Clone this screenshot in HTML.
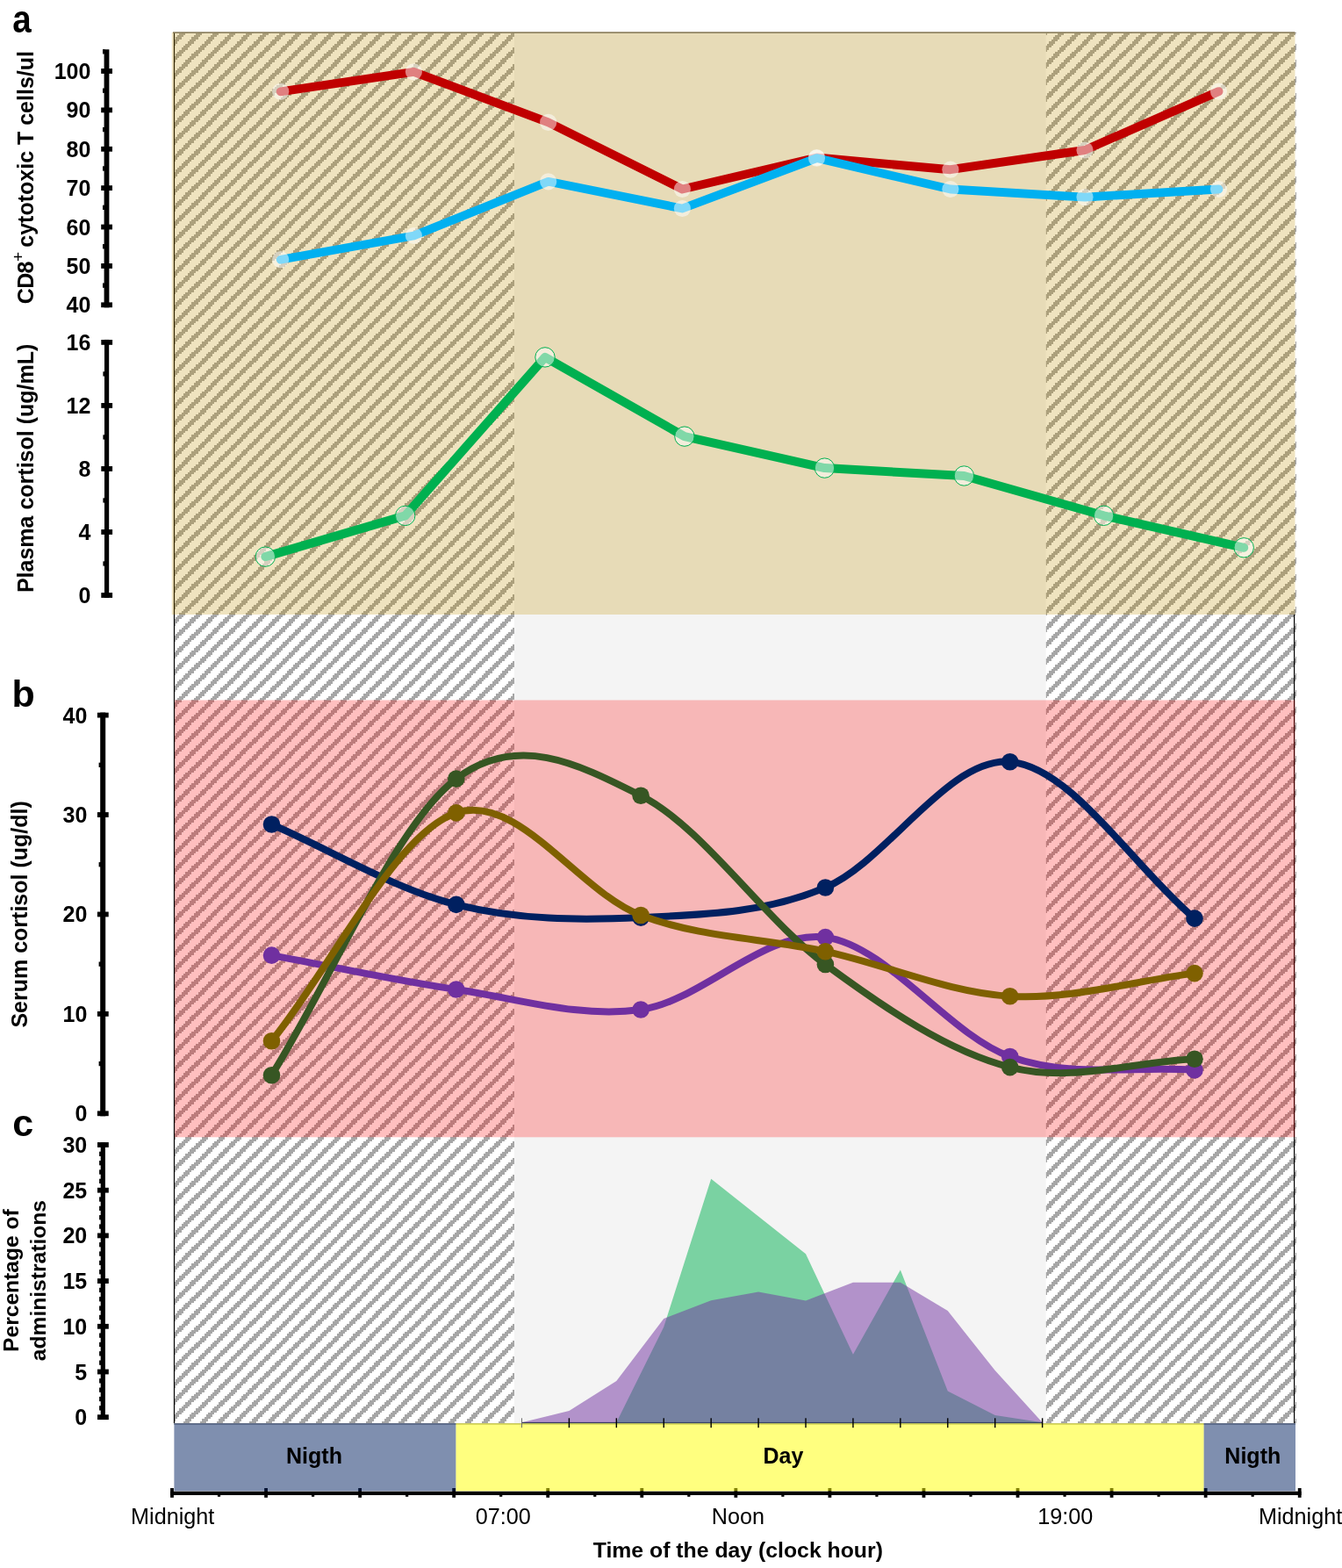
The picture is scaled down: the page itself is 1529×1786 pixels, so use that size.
<!DOCTYPE html>
<html><head><meta charset="utf-8"><title>Circadian cortisol figure</title>
<style>html,body{margin:0;padding:0;background:#fff;}svg{display:block;}text{font-family:"Liberation Sans",Arial,Helvetica,sans-serif;fill:#000;}.b{font-weight:bold;}</style></head><body>
<svg width="1529" height="1786" viewBox="0 0 1529 1786">
<defs>
<pattern id="hw" patternUnits="userSpaceOnUse" x="-1" y="0" width="151" height="151"><rect width="151" height="151" fill="#ffffff"/><path shape-rendering="crispEdges" fill="#a6a6a6" d="M5,0L5,2L2,2L2,5L-5,5L-5,2L-2,2L-2,0ZM24,0L24,2L21,2L21,5L19,5L19,7L17,7L17,9L14,9L14,12L12,12L12,14L9,14L9,17L7,17L7,19L5,19L5,21L2,21L2,24L-5,24L-5,21L-2,21L-2,19L0,19L0,17L2,17L2,14L5,14L5,12L7,12L7,9L9,9L9,7L12,7L12,5L14,5L14,2L17,2L17,0ZM42,0L42,2L40,2L40,5L38,5L38,7L35,7L35,9L33,9L33,12L31,12L31,14L28,14L28,17L26,17L26,19L24,19L24,21L21,21L21,24L19,24L19,26L17,26L17,28L14,28L14,31L12,31L12,33L9,33L9,35L7,35L7,38L5,38L5,40L2,40L2,42L-5,42L-5,40L-2,40L-2,38L0,38L0,35L2,35L2,33L5,33L5,31L7,31L7,28L9,28L9,26L12,26L12,24L14,24L14,21L17,21L17,19L19,19L19,17L21,17L21,14L24,14L24,12L26,12L26,9L28,9L28,7L31,7L31,5L33,5L33,2L35,2L35,0ZM61,0L61,2L59,2L59,5L57,5L57,7L54,7L54,9L52,9L52,12L50,12L50,14L47,14L47,17L45,17L45,19L42,19L42,21L40,21L40,24L38,24L38,26L35,26L35,28L33,28L33,31L31,31L31,33L28,33L28,35L26,35L26,38L24,38L24,40L21,40L21,42L19,42L19,45L17,45L17,47L14,47L14,50L12,50L12,52L9,52L9,54L7,54L7,57L5,57L5,59L2,59L2,61L-5,61L-5,59L-2,59L-2,57L0,57L0,54L2,54L2,52L5,52L5,50L7,50L7,47L9,47L9,45L12,45L12,42L14,42L14,40L17,40L17,38L19,38L19,35L21,35L21,33L24,33L24,31L26,31L26,28L28,28L28,26L31,26L31,24L33,24L33,21L35,21L35,19L38,19L38,17L40,17L40,14L42,14L42,12L45,12L45,9L47,9L47,7L50,7L50,5L52,5L52,2L54,2L54,0ZM80,0L80,2L78,2L78,5L76,5L76,7L73,7L73,9L71,9L71,12L68,12L68,14L66,14L66,17L64,17L64,19L61,19L61,21L59,21L59,24L57,24L57,26L54,26L54,28L52,28L52,31L50,31L50,33L47,33L47,35L45,35L45,38L42,38L42,40L40,40L40,42L38,42L38,45L35,45L35,47L33,47L33,50L31,50L31,52L28,52L28,54L26,54L26,57L24,57L24,59L21,59L21,61L19,61L19,64L17,64L17,66L14,66L14,68L12,68L12,71L9,71L9,73L7,73L7,76L5,76L5,78L2,78L2,80L-5,80L-5,78L-2,78L-2,76L0,76L0,73L2,73L2,71L5,71L5,68L7,68L7,66L9,66L9,64L12,64L12,61L14,61L14,59L17,59L17,57L19,57L19,54L21,54L21,52L24,52L24,50L26,50L26,47L28,47L28,45L31,45L31,42L33,42L33,40L35,40L35,38L38,38L38,35L40,35L40,33L42,33L42,31L45,31L45,28L47,28L47,26L50,26L50,24L52,24L52,21L54,21L54,19L57,19L57,17L59,17L59,14L61,14L61,12L64,12L64,9L66,9L66,7L68,7L68,5L71,5L71,2L73,2L73,0ZM99,0L99,2L97,2L97,5L94,5L94,7L92,7L92,9L90,9L90,12L87,12L87,14L85,14L85,17L83,17L83,19L80,19L80,21L78,21L78,24L76,24L76,26L73,26L73,28L71,28L71,31L68,31L68,33L66,33L66,35L64,35L64,38L61,38L61,40L59,40L59,42L57,42L57,45L54,45L54,47L52,47L52,50L50,50L50,52L47,52L47,54L45,54L45,57L42,57L42,59L40,59L40,61L38,61L38,64L35,64L35,66L33,66L33,68L31,68L31,71L28,71L28,73L26,73L26,76L24,76L24,78L21,78L21,80L19,80L19,83L17,83L17,85L14,85L14,87L12,87L12,90L9,90L9,92L7,92L7,94L5,94L5,97L2,97L2,99L-5,99L-5,97L-2,97L-2,94L0,94L0,92L2,92L2,90L5,90L5,87L7,87L7,85L9,85L9,83L12,83L12,80L14,80L14,78L17,78L17,76L19,76L19,73L21,73L21,71L24,71L24,68L26,68L26,66L28,66L28,64L31,64L31,61L33,61L33,59L35,59L35,57L38,57L38,54L40,54L40,52L42,52L42,50L45,50L45,47L47,47L47,45L50,45L50,42L52,42L52,40L54,40L54,38L57,38L57,35L59,35L59,33L61,33L61,31L64,31L64,28L66,28L66,26L68,26L68,24L71,24L71,21L73,21L73,19L76,19L76,17L78,17L78,14L80,14L80,12L83,12L83,9L85,9L85,7L87,7L87,5L90,5L90,2L92,2L92,0ZM118,0L118,2L116,2L116,5L113,5L113,7L111,7L111,9L109,9L109,12L106,12L106,14L104,14L104,17L101,17L101,19L99,19L99,21L97,21L97,24L94,24L94,26L92,26L92,28L90,28L90,31L87,31L87,33L85,33L85,35L83,35L83,38L80,38L80,40L78,40L78,42L76,42L76,45L73,45L73,47L71,47L71,50L68,50L68,52L66,52L66,54L64,54L64,57L61,57L61,59L59,59L59,61L57,61L57,64L54,64L54,66L52,66L52,68L50,68L50,71L47,71L47,73L45,73L45,76L42,76L42,78L40,78L40,80L38,80L38,83L35,83L35,85L33,85L33,87L31,87L31,90L28,90L28,92L26,92L26,94L24,94L24,97L21,97L21,99L19,99L19,101L17,101L17,104L14,104L14,106L12,106L12,109L9,109L9,111L7,111L7,113L5,113L5,116L2,116L2,118L-5,118L-5,116L-2,116L-2,113L0,113L0,111L2,111L2,109L5,109L5,106L7,106L7,104L9,104L9,101L12,101L12,99L14,99L14,97L17,97L17,94L19,94L19,92L21,92L21,90L24,90L24,87L26,87L26,85L28,85L28,83L31,83L31,80L33,80L33,78L35,78L35,76L38,76L38,73L40,73L40,71L42,71L42,68L45,68L45,66L47,66L47,64L50,64L50,61L52,61L52,59L54,59L54,57L57,57L57,54L59,54L59,52L61,52L61,50L64,50L64,47L66,47L66,45L68,45L68,42L71,42L71,40L73,40L73,38L76,38L76,35L78,35L78,33L80,33L80,31L83,31L83,28L85,28L85,26L87,26L87,24L90,24L90,21L92,21L92,19L94,19L94,17L97,17L97,14L99,14L99,12L101,12L101,9L104,9L104,7L106,7L106,5L109,5L109,2L111,2L111,0ZM137,0L137,2L134,2L134,5L132,5L132,7L130,7L130,9L127,9L127,12L125,12L125,14L123,14L123,17L120,17L120,19L118,19L118,21L116,21L116,24L113,24L113,26L111,26L111,28L109,28L109,31L106,31L106,33L104,33L104,35L101,35L101,38L99,38L99,40L97,40L97,42L94,42L94,45L92,45L92,47L90,47L90,50L87,50L87,52L85,52L85,54L83,54L83,57L80,57L80,59L78,59L78,61L76,61L76,64L73,64L73,66L71,66L71,68L68,68L68,71L66,71L66,73L64,73L64,76L61,76L61,78L59,78L59,80L57,80L57,83L54,83L54,85L52,85L52,87L50,87L50,90L47,90L47,92L45,92L45,94L42,94L42,97L40,97L40,99L38,99L38,101L35,101L35,104L33,104L33,106L31,106L31,109L28,109L28,111L26,111L26,113L24,113L24,116L21,116L21,118L19,118L19,120L17,120L17,123L14,123L14,125L12,125L12,127L9,127L9,130L7,130L7,132L5,132L5,134L2,134L2,137L-5,137L-5,134L-2,134L-2,132L0,132L0,130L2,130L2,127L5,127L5,125L7,125L7,123L9,123L9,120L12,120L12,118L14,118L14,116L17,116L17,113L19,113L19,111L21,111L21,109L24,109L24,106L26,106L26,104L28,104L28,101L31,101L31,99L33,99L33,97L35,97L35,94L38,94L38,92L40,92L40,90L42,90L42,87L45,87L45,85L47,85L47,83L50,83L50,80L52,80L52,78L54,78L54,76L57,76L57,73L59,73L59,71L61,71L61,68L64,68L64,66L66,66L66,64L68,64L68,61L71,61L71,59L73,59L73,57L76,57L76,54L78,54L78,52L80,52L80,50L83,50L83,47L85,47L85,45L87,45L87,42L90,42L90,40L92,40L92,38L94,38L94,35L97,35L97,33L99,33L99,31L101,31L101,28L104,28L104,26L106,26L106,24L109,24L109,21L111,21L111,19L113,19L113,17L116,17L116,14L118,14L118,12L120,12L120,9L123,9L123,7L125,7L125,5L127,5L127,2L130,2L130,0ZM156,0L156,2L153,2L153,5L151,5L151,7L149,7L149,9L146,9L146,12L144,12L144,14L142,14L142,17L139,17L139,19L137,19L137,21L134,21L134,24L132,24L132,26L130,26L130,28L127,28L127,31L125,31L125,33L123,33L123,35L120,35L120,38L118,38L118,40L116,40L116,42L113,42L113,45L111,45L111,47L109,47L109,50L106,50L106,52L104,52L104,54L101,54L101,57L99,57L99,59L97,59L97,61L94,61L94,64L92,64L92,66L90,66L90,68L87,68L87,71L85,71L85,73L83,73L83,76L80,76L80,78L78,78L78,80L76,80L76,83L73,83L73,85L71,85L71,87L68,87L68,90L66,90L66,92L64,92L64,94L61,94L61,97L59,97L59,99L57,99L57,101L54,101L54,104L52,104L52,106L50,106L50,109L47,109L47,111L45,111L45,113L42,113L42,116L40,116L40,118L38,118L38,120L35,120L35,123L33,123L33,125L31,125L31,127L28,127L28,130L26,130L26,132L24,132L24,134L21,134L21,137L19,137L19,139L17,139L17,142L14,142L14,144L12,144L12,146L9,146L9,149L7,149L7,151L0,151L0,149L2,149L2,146L5,146L5,144L7,144L7,142L9,142L9,139L12,139L12,137L14,137L14,134L17,134L17,132L19,132L19,130L21,130L21,127L24,127L24,125L26,125L26,123L28,123L28,120L31,120L31,118L33,118L33,116L35,116L35,113L38,113L38,111L40,111L40,109L42,109L42,106L45,106L45,104L47,104L47,101L50,101L50,99L52,99L52,97L54,97L54,94L57,94L57,92L59,92L59,90L61,90L61,87L64,87L64,85L66,85L66,83L68,83L68,80L71,80L71,78L73,78L73,76L76,76L76,73L78,73L78,71L80,71L80,68L83,68L83,66L85,66L85,64L87,64L87,61L90,61L90,59L92,59L92,57L94,57L94,54L97,54L97,52L99,52L99,50L101,50L101,47L104,47L104,45L106,45L106,42L109,42L109,40L111,40L111,38L113,38L113,35L116,35L116,33L118,33L118,31L120,31L120,28L123,28L123,26L125,26L125,24L127,24L127,21L130,21L130,19L132,19L132,17L134,17L134,14L137,14L137,12L139,12L139,9L142,9L142,7L144,7L144,5L146,5L146,2L149,2L149,0ZM156,19L156,21L153,21L153,24L151,24L151,26L149,26L149,28L146,28L146,31L144,31L144,33L142,33L142,35L139,35L139,38L137,38L137,40L134,40L134,42L132,42L132,45L130,45L130,47L127,47L127,50L125,50L125,52L123,52L123,54L120,54L120,57L118,57L118,59L116,59L116,61L113,61L113,64L111,64L111,66L109,66L109,68L106,68L106,71L104,71L104,73L101,73L101,76L99,76L99,78L97,78L97,80L94,80L94,83L92,83L92,85L90,85L90,87L87,87L87,90L85,90L85,92L83,92L83,94L80,94L80,97L78,97L78,99L76,99L76,101L73,101L73,104L71,104L71,106L68,106L68,109L66,109L66,111L64,111L64,113L61,113L61,116L59,116L59,118L57,118L57,120L54,120L54,123L52,123L52,125L50,125L50,127L47,127L47,130L45,130L45,132L42,132L42,134L40,134L40,137L38,137L38,139L35,139L35,142L33,142L33,144L31,144L31,146L28,146L28,149L26,149L26,151L19,151L19,149L21,149L21,146L24,146L24,144L26,144L26,142L28,142L28,139L31,139L31,137L33,137L33,134L35,134L35,132L38,132L38,130L40,130L40,127L42,127L42,125L45,125L45,123L47,123L47,120L50,120L50,118L52,118L52,116L54,116L54,113L57,113L57,111L59,111L59,109L61,109L61,106L64,106L64,104L66,104L66,101L68,101L68,99L71,99L71,97L73,97L73,94L76,94L76,92L78,92L78,90L80,90L80,87L83,87L83,85L85,85L85,83L87,83L87,80L90,80L90,78L92,78L92,76L94,76L94,73L97,73L97,71L99,71L99,68L101,68L101,66L104,66L104,64L106,64L106,61L109,61L109,59L111,59L111,57L113,57L113,54L116,54L116,52L118,52L118,50L120,50L120,47L123,47L123,45L125,45L125,42L127,42L127,40L130,40L130,38L132,38L132,35L134,35L134,33L137,33L137,31L139,31L139,28L142,28L142,26L144,26L144,24L146,24L146,21L149,21L149,19ZM156,38L156,40L153,40L153,42L151,42L151,45L149,45L149,47L146,47L146,50L144,50L144,52L142,52L142,54L139,54L139,57L137,57L137,59L134,59L134,61L132,61L132,64L130,64L130,66L127,66L127,68L125,68L125,71L123,71L123,73L120,73L120,76L118,76L118,78L116,78L116,80L113,80L113,83L111,83L111,85L109,85L109,87L106,87L106,90L104,90L104,92L101,92L101,94L99,94L99,97L97,97L97,99L94,99L94,101L92,101L92,104L90,104L90,106L87,106L87,109L85,109L85,111L83,111L83,113L80,113L80,116L78,116L78,118L76,118L76,120L73,120L73,123L71,123L71,125L68,125L68,127L66,127L66,130L64,130L64,132L61,132L61,134L59,134L59,137L57,137L57,139L54,139L54,142L52,142L52,144L50,144L50,146L47,146L47,149L45,149L45,151L38,151L38,149L40,149L40,146L42,146L42,144L45,144L45,142L47,142L47,139L50,139L50,137L52,137L52,134L54,134L54,132L57,132L57,130L59,130L59,127L61,127L61,125L64,125L64,123L66,123L66,120L68,120L68,118L71,118L71,116L73,116L73,113L76,113L76,111L78,111L78,109L80,109L80,106L83,106L83,104L85,104L85,101L87,101L87,99L90,99L90,97L92,97L92,94L94,94L94,92L97,92L97,90L99,90L99,87L101,87L101,85L104,85L104,83L106,83L106,80L109,80L109,78L111,78L111,76L113,76L113,73L116,73L116,71L118,71L118,68L120,68L120,66L123,66L123,64L125,64L125,61L127,61L127,59L130,59L130,57L132,57L132,54L134,54L134,52L137,52L137,50L139,50L139,47L142,47L142,45L144,45L144,42L146,42L146,40L149,40L149,38ZM156,57L156,59L153,59L153,61L151,61L151,64L149,64L149,66L146,66L146,68L144,68L144,71L142,71L142,73L139,73L139,76L137,76L137,78L134,78L134,80L132,80L132,83L130,83L130,85L127,85L127,87L125,87L125,90L123,90L123,92L120,92L120,94L118,94L118,97L116,97L116,99L113,99L113,101L111,101L111,104L109,104L109,106L106,106L106,109L104,109L104,111L101,111L101,113L99,113L99,116L97,116L97,118L94,118L94,120L92,120L92,123L90,123L90,125L87,125L87,127L85,127L85,130L83,130L83,132L80,132L80,134L78,134L78,137L76,137L76,139L73,139L73,142L71,142L71,144L68,144L68,146L66,146L66,149L64,149L64,151L57,151L57,149L59,149L59,146L61,146L61,144L64,144L64,142L66,142L66,139L68,139L68,137L71,137L71,134L73,134L73,132L76,132L76,130L78,130L78,127L80,127L80,125L83,125L83,123L85,123L85,120L87,120L87,118L90,118L90,116L92,116L92,113L94,113L94,111L97,111L97,109L99,109L99,106L101,106L101,104L104,104L104,101L106,101L106,99L109,99L109,97L111,97L111,94L113,94L113,92L116,92L116,90L118,90L118,87L120,87L120,85L123,85L123,83L125,83L125,80L127,80L127,78L130,78L130,76L132,76L132,73L134,73L134,71L137,71L137,68L139,68L139,66L142,66L142,64L144,64L144,61L146,61L146,59L149,59L149,57ZM156,76L156,78L153,78L153,80L151,80L151,83L149,83L149,85L146,85L146,87L144,87L144,90L142,90L142,92L139,92L139,94L137,94L137,97L134,97L134,99L132,99L132,101L130,101L130,104L127,104L127,106L125,106L125,109L123,109L123,111L120,111L120,113L118,113L118,116L116,116L116,118L113,118L113,120L111,120L111,123L109,123L109,125L106,125L106,127L104,127L104,130L101,130L101,132L99,132L99,134L97,134L97,137L94,137L94,139L92,139L92,142L90,142L90,144L87,144L87,146L85,146L85,149L83,149L83,151L76,151L76,149L78,149L78,146L80,146L80,144L83,144L83,142L85,142L85,139L87,139L87,137L90,137L90,134L92,134L92,132L94,132L94,130L97,130L97,127L99,127L99,125L101,125L101,123L104,123L104,120L106,120L106,118L109,118L109,116L111,116L111,113L113,113L113,111L116,111L116,109L118,109L118,106L120,106L120,104L123,104L123,101L125,101L125,99L127,99L127,97L130,97L130,94L132,94L132,92L134,92L134,90L137,90L137,87L139,87L139,85L142,85L142,83L144,83L144,80L146,80L146,78L149,78L149,76ZM156,94L156,97L153,97L153,99L151,99L151,101L149,101L149,104L146,104L146,106L144,106L144,109L142,109L142,111L139,111L139,113L137,113L137,116L134,116L134,118L132,118L132,120L130,120L130,123L127,123L127,125L125,125L125,127L123,127L123,130L120,130L120,132L118,132L118,134L116,134L116,137L113,137L113,139L111,139L111,142L109,142L109,144L106,144L106,146L104,146L104,149L101,149L101,151L94,151L94,149L97,149L97,146L99,146L99,144L101,144L101,142L104,142L104,139L106,139L106,137L109,137L109,134L111,134L111,132L113,132L113,130L116,130L116,127L118,127L118,125L120,125L120,123L123,123L123,120L125,120L125,118L127,118L127,116L130,116L130,113L132,113L132,111L134,111L134,109L137,109L137,106L139,106L139,104L142,104L142,101L144,101L144,99L146,99L146,97L149,97L149,94ZM156,113L156,116L153,116L153,118L151,118L151,120L149,120L149,123L146,123L146,125L144,125L144,127L142,127L142,130L139,130L139,132L137,132L137,134L134,134L134,137L132,137L132,139L130,139L130,142L127,142L127,144L125,144L125,146L123,146L123,149L120,149L120,151L113,151L113,149L116,149L116,146L118,146L118,144L120,144L120,142L123,142L123,139L125,139L125,137L127,137L127,134L130,134L130,132L132,132L132,130L134,130L134,127L137,127L137,125L139,125L139,123L142,123L142,120L144,120L144,118L146,118L146,116L149,116L149,113ZM156,132L156,134L153,134L153,137L151,137L151,139L149,139L149,142L146,142L146,144L144,144L144,146L142,146L142,149L139,149L139,151L132,151L132,149L134,149L134,146L137,146L137,144L139,144L139,142L142,142L142,139L144,139L144,137L146,137L146,134L149,134L149,132Z"/></pattern>
</defs>
<rect width="1529" height="1786" fill="#fff"/>
<rect x="198" y="37" width="388" height="1584" fill="url(#hw)"/>
<rect x="586" y="37" width="605.8" height="1584" fill="#f4f4f4"/>
<rect x="1191.8" y="37" width="285.2" height="1584" fill="url(#hw)"/>
<rect x="197.9" y="37" width="1.2" height="1584" fill="#000"/>
<rect x="1474" y="700" width="1.2" height="921" fill="#000"/>
<rect x="195.8" y="37" width="1279.7" height="663" fill="#bf9000" fill-opacity="0.25"/>
<rect x="197" y="36.3" width="1278.5" height="1.6" fill="#877a58"/>
<rect x="199" y="797.5" width="1276.5" height="497.8" fill="#ff0000" fill-opacity="0.25"/>
<rect x="594.5" y="1619.9" width="593.12" height="1.7" fill="#000"/>
<rect x="198" y="1621" width="1278" height="1.8" fill="#a8a8a8"/>
<path d="M594.5,1621.3 L594.5,1620.3 L648.42,1620.3 L702.34,1620.3 L756.26,1511.5 L810.18,1342.7 L864.1,1385.5 L918.02,1428.3 L971.94,1542.8 L1025.86,1446.4 L1079.78,1584.6 L1133.7,1612.1 L1187.62,1620.3 L1187.62,1621.3 Z" fill="#00b050" fill-opacity="0.5"/>
<path d="M594.5,1621.3 L594.5,1620.3 L648.42,1607 L702.34,1573 L756.26,1502 L810.18,1481.2 L864.1,1471.4 L918.02,1481.4 L971.94,1460.8 L1025.86,1460.8 L1079.78,1493.1 L1133.7,1561.1 L1187.62,1620.3 L1187.62,1621.3 Z" fill="#7030a0" fill-opacity="0.5"/>
<path d="M319.7,104.3 L471.4,81.8 L624.7,139.4 L777.4,215.5 L930.5,179.5 L1082.9,193.2 L1236,171 L1388.5,104.1" fill="none" stroke="#c00000" stroke-width="9.9" stroke-linejoin="round" stroke-linecap="round"/>
<circle cx="319.7" cy="104.3" r="9.6" fill="#fff" fill-opacity="0.5"/>
<circle cx="471.4" cy="81.8" r="9.6" fill="#fff" fill-opacity="0.5"/>
<circle cx="624.7" cy="139.4" r="9.6" fill="#fff" fill-opacity="0.5"/>
<circle cx="777.4" cy="215.5" r="9.6" fill="#fff" fill-opacity="0.5"/>
<circle cx="930.5" cy="179.5" r="9.6" fill="#fff" fill-opacity="0.5"/>
<circle cx="1082.9" cy="193.2" r="9.6" fill="#fff" fill-opacity="0.5"/>
<circle cx="1236" cy="171" r="9.6" fill="#fff" fill-opacity="0.5"/>
<circle cx="1388.5" cy="104.1" r="9.6" fill="#fff" fill-opacity="0.5"/>
<path d="M319.7,295.7 L471.4,268.5 L624.7,206.8 L777.4,237.5 L930.5,180.1 L1082.9,215.5 L1236,224.6 L1388.5,215.5" fill="none" stroke="#00b0f0" stroke-width="9.8" stroke-linejoin="round" stroke-linecap="round"/>
<circle cx="319.7" cy="295.7" r="9.6" fill="#fff" fill-opacity="0.5"/>
<circle cx="471.4" cy="268.5" r="9.6" fill="#fff" fill-opacity="0.5"/>
<circle cx="624.7" cy="206.8" r="9.6" fill="#fff" fill-opacity="0.5"/>
<circle cx="777.4" cy="237.5" r="9.6" fill="#fff" fill-opacity="0.5"/>
<circle cx="930.5" cy="180.1" r="9.6" fill="#fff" fill-opacity="0.5"/>
<circle cx="1082.9" cy="215.5" r="9.6" fill="#fff" fill-opacity="0.5"/>
<circle cx="1236" cy="224.6" r="9.6" fill="#fff" fill-opacity="0.5"/>
<circle cx="1388.5" cy="215.5" r="9.6" fill="#fff" fill-opacity="0.5"/>
<path d="M302.35,634.1 L461.7,587.4 L621,406.9 L779.9,497.1 L939.5,533.1 L1098.4,542 L1257.6,587.3 L1417.2,623.8" fill="none" stroke="#00b050" stroke-width="10" stroke-linejoin="round" stroke-linecap="round"/>
<circle cx="302.35" cy="634.1" r="11.2" fill="#fff" fill-opacity="0.5" stroke="#00b050" stroke-width="1"/>
<circle cx="461.7" cy="587.4" r="11.2" fill="#fff" fill-opacity="0.5" stroke="#00b050" stroke-width="1"/>
<circle cx="621" cy="406.9" r="11.2" fill="#fff" fill-opacity="0.5" stroke="#00b050" stroke-width="1"/>
<circle cx="779.9" cy="497.1" r="11.2" fill="#fff" fill-opacity="0.5" stroke="#00b050" stroke-width="1"/>
<circle cx="939.5" cy="533.1" r="11.2" fill="#fff" fill-opacity="0.5" stroke="#00b050" stroke-width="1"/>
<circle cx="1098.4" cy="542" r="11.2" fill="#fff" fill-opacity="0.5" stroke="#00b050" stroke-width="1"/>
<circle cx="1257.6" cy="587.3" r="11.2" fill="#fff" fill-opacity="0.5" stroke="#00b050" stroke-width="1"/>
<circle cx="1417.2" cy="623.8" r="11.2" fill="#fff" fill-opacity="0.5" stroke="#00b050" stroke-width="1"/>
<path d="M309.5,939 C379.6,969.47 449.7,1012.72 519.8,1030.4 C589.9,1048.08 660,1048.33 730.1,1045.1 C800.2,1041.87 870.3,1040.55 940.4,1011 C1010.5,981.45 1080.6,861.95 1150.7,867.8 C1220.8,873.65 1290.9,986.67 1361,1046.1" fill="none" stroke="#002060" stroke-width="8" stroke-linejoin="round" stroke-linecap="round"/>
<circle cx="309.5" cy="939" r="9.8" fill="#002060"/>
<circle cx="519.8" cy="1030.4" r="9.8" fill="#002060"/>
<circle cx="730.1" cy="1045.1" r="9.8" fill="#002060"/>
<circle cx="940.4" cy="1011" r="9.8" fill="#002060"/>
<circle cx="1150.7" cy="867.8" r="9.8" fill="#002060"/>
<circle cx="1361" cy="1046.1" r="9.8" fill="#002060"/>
<path d="M309.5,1088.1 C379.6,1101.07 449.7,1116.68 519.8,1127 C589.9,1137.32 660,1159.9 730.1,1150 C800.2,1140.1 870.3,1058.68 940.4,1067.6 C1010.5,1076.52 1080.6,1178.3 1150.7,1203.5 C1220.8,1228.7 1290.9,1213.7 1361,1218.8" fill="none" stroke="#7030a0" stroke-width="8" stroke-linejoin="round" stroke-linecap="round"/>
<circle cx="309.5" cy="1088.1" r="9.8" fill="#7030a0"/>
<circle cx="519.8" cy="1127" r="9.8" fill="#7030a0"/>
<circle cx="730.1" cy="1150" r="9.8" fill="#7030a0"/>
<circle cx="940.4" cy="1067.6" r="9.8" fill="#7030a0"/>
<circle cx="1150.7" cy="1203.5" r="9.8" fill="#7030a0"/>
<circle cx="1361" cy="1218.8" r="9.8" fill="#7030a0"/>
<path d="M309.5,1224.7 C379.6,1112.17 449.7,940.18 519.8,887.1 C589.9,834.02 660,870.97 730.1,906.2 C800.2,941.43 870.3,1046.93 940.4,1098.5 C1010.5,1150.07 1080.6,1197.65 1150.7,1215.6 C1220.8,1233.55 1290.9,1209.33 1361,1206.2" fill="none" stroke="#375623" stroke-width="8" stroke-linejoin="round" stroke-linecap="round"/>
<circle cx="309.5" cy="1224.7" r="9.8" fill="#375623"/>
<circle cx="519.8" cy="887.1" r="9.8" fill="#375623"/>
<circle cx="730.1" cy="906.2" r="9.8" fill="#375623"/>
<circle cx="940.4" cy="1098.5" r="9.8" fill="#375623"/>
<circle cx="1150.7" cy="1215.6" r="9.8" fill="#375623"/>
<circle cx="1361" cy="1206.2" r="9.8" fill="#375623"/>
<path d="M309.5,1185.8 C379.6,1099.17 449.7,949.78 519.8,925.9 C589.9,902.02 660,1016.2 730.1,1042.5 C800.2,1068.8 870.3,1068.32 940.4,1083.7 C1010.5,1099.08 1080.6,1130.65 1150.7,1134.8 C1220.8,1138.95 1290.9,1117.33 1361,1108.6" fill="none" stroke="#7f6000" stroke-width="8" stroke-linejoin="round" stroke-linecap="round"/>
<circle cx="309.5" cy="1185.8" r="9.8" fill="#7f6000"/>
<circle cx="519.8" cy="925.9" r="9.8" fill="#7f6000"/>
<circle cx="730.1" cy="1042.5" r="9.8" fill="#7f6000"/>
<circle cx="940.4" cy="1083.7" r="9.8" fill="#7f6000"/>
<circle cx="1150.7" cy="1134.8" r="9.8" fill="#7f6000"/>
<circle cx="1361" cy="1108.6" r="9.8" fill="#7f6000"/>
<rect x="194.1" y="1698.7" width="1288.5" height="4.3" fill="#000"/>
<rect x="194.1" y="1695" width="3.8" height="10.8" fill="#000"/>
<rect x="247.93" y="1700" width="3.2" height="4.8" fill="#000"/>
<rect x="301.16" y="1695" width="3.8" height="10.8" fill="#000"/>
<rect x="354.99" y="1700" width="3.2" height="4.8" fill="#000"/>
<rect x="408.22" y="1695" width="3.8" height="10.8" fill="#000"/>
<rect x="462.05" y="1700" width="3.2" height="4.8" fill="#000"/>
<rect x="515.27" y="1695" width="3.8" height="10.8" fill="#000"/>
<rect x="569.1" y="1700" width="3.2" height="4.8" fill="#000"/>
<rect x="622.33" y="1695" width="3.8" height="10.8" fill="#000"/>
<rect x="676.16" y="1700" width="3.2" height="4.8" fill="#000"/>
<rect x="729.39" y="1695" width="3.8" height="10.8" fill="#000"/>
<rect x="783.22" y="1700" width="3.2" height="4.8" fill="#000"/>
<rect x="836.45" y="1695" width="3.8" height="10.8" fill="#000"/>
<rect x="890.28" y="1700" width="3.2" height="4.8" fill="#000"/>
<rect x="943.51" y="1695" width="3.8" height="10.8" fill="#000"/>
<rect x="997.34" y="1700" width="3.2" height="4.8" fill="#000"/>
<rect x="1050.57" y="1695" width="3.8" height="10.8" fill="#000"/>
<rect x="1104.4" y="1700" width="3.2" height="4.8" fill="#000"/>
<rect x="1157.62" y="1695" width="3.8" height="10.8" fill="#000"/>
<rect x="1211.45" y="1700" width="3.2" height="4.8" fill="#000"/>
<rect x="1264.68" y="1695" width="3.8" height="10.8" fill="#000"/>
<rect x="1318.51" y="1700" width="3.2" height="4.8" fill="#000"/>
<rect x="1371.74" y="1695" width="3.8" height="10.8" fill="#000"/>
<rect x="1425.57" y="1700" width="3.2" height="4.8" fill="#000"/>
<rect x="1478.8" y="1695" width="3.8" height="10.8" fill="#000"/>
<text x="196.7" y="1736" font-size="25.2" text-anchor="middle">Midnight</text>
<text x="573.2" y="1736" font-size="25.2" text-anchor="middle">07:00</text>
<text x="840.8" y="1736" font-size="25.2" text-anchor="middle">Noon</text>
<text x="1213.7" y="1736" font-size="25.2" text-anchor="middle">19:00</text>
<text x="1481.6" y="1736" font-size="25.2" text-anchor="middle">Midnight</text>
<text class="b" x="840.8" y="1773.8" font-size="24.8" text-anchor="middle">Time of the day (clock hour)</text>
<rect x="198.4" y="1621.2" width="321.1" height="77.1" fill="#002060" fill-opacity="0.5"/>
<rect x="519.5" y="1621.2" width="852.1" height="77.1" fill="#ffff00" fill-opacity="0.5"/>
<rect x="1371.6" y="1621.2" width="104.4" height="77.1" fill="#002060" fill-opacity="0.5"/>
<text class="b" x="358" y="1667.3" font-size="25" text-anchor="middle">Nigth</text>
<text class="b" x="892.5" y="1667.3" font-size="25" text-anchor="middle">Day</text>
<text class="b" x="1427.3" y="1667.3" font-size="25" text-anchor="middle">Nigth</text>
<rect x="594" y="1615.3" width="1" height="10.9" fill="#707070"/>
<rect x="647.72" y="1615.3" width="1.4" height="10.9" fill="#000"/>
<rect x="701.64" y="1615.3" width="1.4" height="10.9" fill="#000"/>
<rect x="755.56" y="1615.3" width="1.4" height="10.9" fill="#000"/>
<rect x="809.48" y="1615.3" width="1.4" height="10.9" fill="#000"/>
<rect x="863.4" y="1615.3" width="1.4" height="10.9" fill="#000"/>
<rect x="917.32" y="1615.3" width="1.4" height="10.9" fill="#000"/>
<rect x="971.24" y="1615.3" width="1.4" height="10.9" fill="#000"/>
<rect x="1025.16" y="1615.3" width="1.4" height="10.9" fill="#000"/>
<rect x="1079.08" y="1615.3" width="1.4" height="10.9" fill="#000"/>
<rect x="1133" y="1615.3" width="1.4" height="10.9" fill="#000"/>
<rect x="1186.92" y="1615.3" width="1.4" height="10.9" fill="#000"/>
<rect x="118.6" y="56.31" width="5.8" height="293.99" fill="#000"/>
<rect x="115.2" y="344.4" width="12.8" height="5.8" fill="#000"/>
<rect x="115.2" y="300.02" width="12.8" height="5.8" fill="#000"/>
<rect x="115.2" y="255.63" width="12.8" height="5.8" fill="#000"/>
<rect x="115.2" y="211.25" width="12.8" height="5.8" fill="#000"/>
<rect x="115.2" y="166.87" width="12.8" height="5.8" fill="#000"/>
<rect x="115.2" y="122.48" width="12.8" height="5.8" fill="#000"/>
<rect x="115.2" y="78.1" width="12.8" height="5.8" fill="#000"/>
<rect x="117" y="322.46" width="2.6" height="5.3" fill="#000"/>
<rect x="117" y="278.08" width="2.6" height="5.3" fill="#000"/>
<rect x="117" y="233.69" width="2.6" height="5.3" fill="#000"/>
<rect x="117" y="189.31" width="2.6" height="5.3" fill="#000"/>
<rect x="117" y="144.92" width="2.6" height="5.3" fill="#000"/>
<rect x="117" y="100.54" width="2.6" height="5.3" fill="#000"/>
<rect x="117" y="56.16" width="2.6" height="5.3" fill="#000"/>
<text class="b" x="103.4" y="356.3" font-size="25" text-anchor="end">40</text>
<text class="b" x="103.4" y="311.92" font-size="25" text-anchor="end">50</text>
<text class="b" x="103.4" y="267.53" font-size="25" text-anchor="end">60</text>
<text class="b" x="103.4" y="223.15" font-size="25" text-anchor="end">70</text>
<text class="b" x="103.4" y="178.77" font-size="25" text-anchor="end">80</text>
<text class="b" x="103.4" y="134.38" font-size="25" text-anchor="end">90</text>
<text class="b" x="103.4" y="90" font-size="25" text-anchor="end">100</text>
<rect x="119" y="386.9" width="5.2" height="294.1" fill="#000"/>
<rect x="115.3" y="675.1" width="12.8" height="5.8" fill="#000"/>
<rect x="115.3" y="603.08" width="12.8" height="5.8" fill="#000"/>
<rect x="115.3" y="531.05" width="12.8" height="5.8" fill="#000"/>
<rect x="115.3" y="459.02" width="12.8" height="5.8" fill="#000"/>
<rect x="115.3" y="387" width="12.8" height="5.8" fill="#000"/>
<rect x="117.4" y="639.34" width="2.6" height="5.3" fill="#000"/>
<rect x="117.4" y="567.31" width="2.6" height="5.3" fill="#000"/>
<rect x="117.4" y="495.29" width="2.6" height="5.3" fill="#000"/>
<rect x="117.4" y="423.26" width="2.6" height="5.3" fill="#000"/>
<text class="b" x="103.4" y="687" font-size="25" text-anchor="end">0</text>
<text class="b" x="103.4" y="614.98" font-size="25" text-anchor="end">4</text>
<text class="b" x="103.4" y="542.95" font-size="25" text-anchor="end">8</text>
<text class="b" x="103.4" y="470.92" font-size="25" text-anchor="end">12</text>
<text class="b" x="103.4" y="398.9" font-size="25" text-anchor="end">16</text>
<g transform="translate(-4.3,0)">
<rect x="118.5" y="811.6" width="6" height="459.7" fill="#000"/>
<rect x="115.2" y="1265.4" width="12.8" height="5.8" fill="#000"/>
<rect x="115.2" y="1151.97" width="12.8" height="5.8" fill="#000"/>
<rect x="115.2" y="1038.55" width="12.8" height="5.8" fill="#000"/>
<rect x="115.2" y="925.12" width="12.8" height="5.8" fill="#000"/>
<rect x="115.2" y="811.7" width="12.8" height="5.8" fill="#000"/>
<rect x="116.9" y="1208.94" width="2.6" height="5.3" fill="#000"/>
<rect x="116.9" y="1095.51" width="2.6" height="5.3" fill="#000"/>
<rect x="116.9" y="982.09" width="2.6" height="5.3" fill="#000"/>
<rect x="116.9" y="868.66" width="2.6" height="5.3" fill="#000"/>
</g>
<text class="b" x="99.4" y="1277.3" font-size="25" text-anchor="end">0</text>
<text class="b" x="99.4" y="1163.88" font-size="25" text-anchor="end">10</text>
<text class="b" x="99.4" y="1050.45" font-size="25" text-anchor="end">20</text>
<text class="b" x="99.4" y="937.02" font-size="25" text-anchor="end">30</text>
<text class="b" x="99.4" y="823.6" font-size="25" text-anchor="end">40</text>
<g transform="translate(-4.2,0)">
<rect x="118.9" y="1301.5" width="5.2" height="315.2" fill="#000"/>
<rect x="115.2" y="1611.3" width="12.8" height="5.8" fill="#000"/>
<rect x="115.2" y="1559.6" width="12.8" height="5.8" fill="#000"/>
<rect x="115.2" y="1507.9" width="12.8" height="5.8" fill="#000"/>
<rect x="115.2" y="1456.2" width="12.8" height="5.8" fill="#000"/>
<rect x="115.2" y="1404.5" width="12.8" height="5.8" fill="#000"/>
<rect x="115.2" y="1352.8" width="12.8" height="5.8" fill="#000"/>
<rect x="115.2" y="1301.1" width="12.8" height="5.8" fill="#000"/>
<rect x="117.3" y="1601.21" width="2.6" height="5.3" fill="#000"/>
<rect x="117.3" y="1590.87" width="2.6" height="5.3" fill="#000"/>
<rect x="117.3" y="1580.53" width="2.6" height="5.3" fill="#000"/>
<rect x="117.3" y="1570.19" width="2.6" height="5.3" fill="#000"/>
<rect x="117.3" y="1549.51" width="2.6" height="5.3" fill="#000"/>
<rect x="117.3" y="1539.17" width="2.6" height="5.3" fill="#000"/>
<rect x="117.3" y="1528.83" width="2.6" height="5.3" fill="#000"/>
<rect x="117.3" y="1518.49" width="2.6" height="5.3" fill="#000"/>
<rect x="117.3" y="1497.81" width="2.6" height="5.3" fill="#000"/>
<rect x="117.3" y="1487.47" width="2.6" height="5.3" fill="#000"/>
<rect x="117.3" y="1477.13" width="2.6" height="5.3" fill="#000"/>
<rect x="117.3" y="1466.79" width="2.6" height="5.3" fill="#000"/>
<rect x="117.3" y="1446.11" width="2.6" height="5.3" fill="#000"/>
<rect x="117.3" y="1435.77" width="2.6" height="5.3" fill="#000"/>
<rect x="117.3" y="1425.43" width="2.6" height="5.3" fill="#000"/>
<rect x="117.3" y="1415.09" width="2.6" height="5.3" fill="#000"/>
<rect x="117.3" y="1394.41" width="2.6" height="5.3" fill="#000"/>
<rect x="117.3" y="1384.07" width="2.6" height="5.3" fill="#000"/>
<rect x="117.3" y="1373.73" width="2.6" height="5.3" fill="#000"/>
<rect x="117.3" y="1363.39" width="2.6" height="5.3" fill="#000"/>
<rect x="117.3" y="1342.71" width="2.6" height="5.3" fill="#000"/>
<rect x="117.3" y="1332.37" width="2.6" height="5.3" fill="#000"/>
<rect x="117.3" y="1322.03" width="2.6" height="5.3" fill="#000"/>
<rect x="117.3" y="1311.69" width="2.6" height="5.3" fill="#000"/>
</g>
<text class="b" x="99.2" y="1623.2" font-size="25" text-anchor="end">0</text>
<text class="b" x="99.2" y="1571.5" font-size="25" text-anchor="end">5</text>
<text class="b" x="99.2" y="1519.8" font-size="25" text-anchor="end">10</text>
<text class="b" x="99.2" y="1468.1" font-size="25" text-anchor="end">15</text>
<text class="b" x="99.2" y="1416.4" font-size="25" text-anchor="end">20</text>
<text class="b" x="99.2" y="1364.7" font-size="25" text-anchor="end">25</text>
<text class="b" x="99.2" y="1313" font-size="25" text-anchor="end">30</text>
<text class="b" font-size="25" transform="translate(37.8,346.3) rotate(-90)"><tspan letter-spacing="-0.6">CD8</tspan><tspan font-weight="normal" font-size="19" dy="-10.5">+ </tspan><tspan dy="10.5">cytotoxic T cells/ul</tspan></text>
<text class="b" font-size="25" text-anchor="middle" transform="translate(37.8,533.4) rotate(-90)">Plasma cortisol (ug/mL)</text>
<text class="b" font-size="25" text-anchor="middle" transform="translate(31.3,1041.4) rotate(-90)">Serum cortisol (ug/dl)</text>
<text class="b" font-size="24.6" text-anchor="middle" transform="translate(20.7,1458.6) rotate(-90)">Percentage of</text>
<text class="b" font-size="24.6" text-anchor="middle" transform="translate(51.5,1458.6) rotate(-90)">administrations</text>
<text class="b" font-size="44" transform="translate(14.3,36.9) scale(0.875,1)">a</text>
<text class="b" x="13.6" y="805.3" font-size="43">b</text>
<text class="b" x="14.3" y="1293.7" font-size="43">c</text>
</svg></body></html>
